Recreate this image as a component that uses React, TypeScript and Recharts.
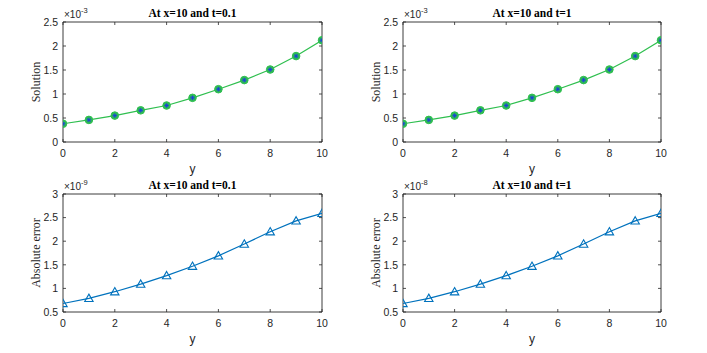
import { LineChart, Line, XAxis, YAxis, ReferenceArea } from 'recharts'

// values in units of the axis exponent (×10^-3 for solution, ×10^-9 / ×10^-8 for error)
const yPoints = [0, 1, 2, 3, 4, 5, 6, 7, 8, 9, 10]
const solutionT01 = [0.38, 0.46, 0.55, 0.66, 0.76, 0.92, 1.1, 1.29, 1.51, 1.79, 2.12]
const solutionT1 = [0.38, 0.46, 0.55, 0.66, 0.76, 0.92, 1.1, 1.29, 1.51, 1.79, 2.12]
const errorT01 = [0.68, 0.79, 0.93, 1.09, 1.27, 1.47, 1.69, 1.94, 2.2, 2.43, 2.59]
const errorT1 = [0.68, 0.79, 0.93, 1.09, 1.27, 1.47, 1.69, 1.94, 2.2, 2.43, 2.59]

const xTicks = [0, 2, 4, 6, 8, 10]
const solutionTicks = [0, 0.5, 1, 1.5, 2, 2.5]
const errorTicks = [0.5, 1, 1.5, 2, 2.5, 3]

const AXIS = '#262626'
const GREEN = '#2fbf4f'
const STAR = '#1a35e6'
const BLUE = '#0072BD'
const SANS = 'Arial, "Liberation Sans", Helvetica, sans-serif'
const SERIF = '"Times New Roman", "Liberation Serif", serif'

interface PanelProps {
  left: number
  top: number
  width: number
  height: number
  L: number
  R: number
  T: number
  B: number
  values: number[]
  ticks: number[]
  title: string
  ylabel: string
  exponent: string
  marker: 'circleStar' | 'triangle'
}

// green 'o' with a blue '*' drawn on top of it
function CircleStar(props: any) {
  const { cx, cy } = props
  if (cx == null || cy == null) return null
  const r = 2.4
  const d = 1.7
  return (
    <g>
      <circle cx={cx} cy={cy} r={3.8} fill={GREEN} stroke={GREEN} strokeWidth={1} />
      <line x1={cx - r} y1={cy} x2={cx + r} y2={cy} stroke={STAR} strokeWidth={0.8} />
      <line x1={cx} y1={cy - r} x2={cx} y2={cy + r} stroke={STAR} strokeWidth={0.8} />
      <line x1={cx - d} y1={cy - d} x2={cx + d} y2={cy + d} stroke={STAR} strokeWidth={0.8} />
      <line x1={cx - d} y1={cy + d} x2={cx + d} y2={cy - d} stroke={STAR} strokeWidth={0.8} />
    </g>
  )
}

function Triangle(props: any) {
  const { cx, cy } = props
  if (cx == null || cy == null) return null
  const s = 4.2
  return (
    <path
      d={`M${cx},${cy - s} L${cx + s},${cy + s * 0.75} L${cx - s},${cy + s * 0.75} Z`}
      fill="none"
      stroke={BLUE}
      strokeWidth={1.1}
    />
  )
}

const AX_W = 30
const AX_H = 20

function Panel(p: PanelProps) {
  const data = yPoints.map((y, i) => ({ y, v: p.values[i] }))
  const yMin = p.ticks[0]
  const yMax = p.ticks[p.ticks.length - 1]
  const color = p.marker === 'circleStar' ? GREEN : BLUE

  const xTick = (t: any) => (
    <g>
      <line x1={t.x} y1={p.B} x2={t.x} y2={p.B - 3} stroke={AXIS} strokeWidth={0.8} />
      <line x1={t.x} y1={p.T} x2={t.x} y2={p.T + 3} stroke={AXIS} strokeWidth={0.8} />
      <text x={t.x} y={p.B + 15} textAnchor="middle" fontSize={10.5} fontFamily={SANS} fill={AXIS}>
        {t.payload.value}
      </text>
    </g>
  )
  const yTick = (t: any) => (
    <g>
      <line x1={p.L} y1={t.y} x2={p.L + 3} y2={t.y} stroke={AXIS} strokeWidth={0.8} />
      <line x1={p.R} y1={t.y} x2={p.R - 3} y2={t.y} stroke={AXIS} strokeWidth={0.8} />
      <text x={p.L - 5} y={t.y + 3.8} textAnchor="end" fontSize={10.5} fontFamily={SANS} fill={AXIS}>
        {t.payload.value}
      </text>
    </g>
  )

  return (
    <div style={{ position: 'absolute', left: p.left, top: p.top, width: p.width, height: p.height }}>
      <LineChart
        width={p.width}
        height={p.height}
        data={data}
        margin={{ left: p.L - AX_W, right: p.width - p.R, top: p.T, bottom: p.height - p.B - AX_H }}
      >
        <XAxis
          dataKey="y"
          type="number"
          domain={[0, 10]}
          ticks={xTicks}
          height={AX_H}
          axisLine={false}
          tickLine={false}
          tick={xTick}
          interval={0}
          allowDataOverflow
        />
        <YAxis
          type="number"
          domain={[yMin, yMax]}
          ticks={p.ticks}
          width={AX_W}
          axisLine={false}
          tickLine={false}
          tick={yTick}
          interval={0}
          allowDataOverflow
        />
        <ReferenceArea x1={0} x2={10} y1={yMin} y2={yMax} fill="none" stroke={AXIS} strokeWidth={0.9} />
        <Line
          type="linear"
          dataKey="v"
          stroke={color}
          strokeWidth={1.2}
          dot={p.marker === 'circleStar' ? CircleStar : Triangle}
          isAnimationActive={false}
        />
      </LineChart>
      <svg
        width={p.width}
        height={p.height}
        style={{ position: 'absolute', left: 0, top: 0, pointerEvents: 'none', overflow: 'visible' }}
      >
        <text x={(p.L + p.R) / 2} y={p.T - 5} textAnchor="middle" fontSize={11.5} fontWeight="bold" fontFamily={SERIF} fill="#000">
          {p.title}
        </text>
        <text x={p.L + 1} y={p.T - 4} fontSize={10} fontFamily={SANS} fill={AXIS}>
          ×10
          <tspan dy={-5} fontSize={7.5}>{p.exponent}</tspan>
        </text>
        <text
          x={36}
          y={(p.T + p.B) / 2}
          transform={`rotate(-90 36 ${(p.T + p.B) / 2})`}
          textAnchor="middle"
          dominantBaseline="central"
          fontSize={12}
          fontFamily={SERIF}
          fill={AXIS}
        >
          {p.ylabel}
        </text>
        <text x={(p.L + p.R) / 2} y={p.B + 31} textAnchor="middle" fontSize={12} fontFamily={SANS} fill={AXIS}>
          y
        </text>
      </svg>
    </div>
  )
}

export default function App() {
  return (
    <div style={{ position: 'absolute', left: 0, top: 0, width: 707, height: 353, background: '#fff' }}>
      <Panel left={0} top={0} width={340} height={175} L={63} R={322} T={22} B={142}
        values={solutionT01} ticks={solutionTicks} title="At x=10 and t=0.1" ylabel="Solution" exponent="-3" marker="circleStar" />
      <Panel left={340} top={0} width={345} height={175} L={63} R={321} T={22} B={142}
        values={solutionT1} ticks={solutionTicks} title="At x=10 and t=1" ylabel="Solution" exponent="-3" marker="circleStar" />
      <Panel left={0} top={175} width={340} height={178} L={63} R={322} T={19} B={137}
        values={errorT01} ticks={errorTicks} title="At x=10 and t=0.1" ylabel="Absolute error" exponent="-9" marker="triangle" />
      <Panel left={340} top={175} width={345} height={178} L={63} R={321} T={19} B={137}
        values={errorT1} ticks={errorTicks} title="At x=10 and t=1" ylabel="Absolute error" exponent="-8" marker="triangle" />
    </div>
  )
}
